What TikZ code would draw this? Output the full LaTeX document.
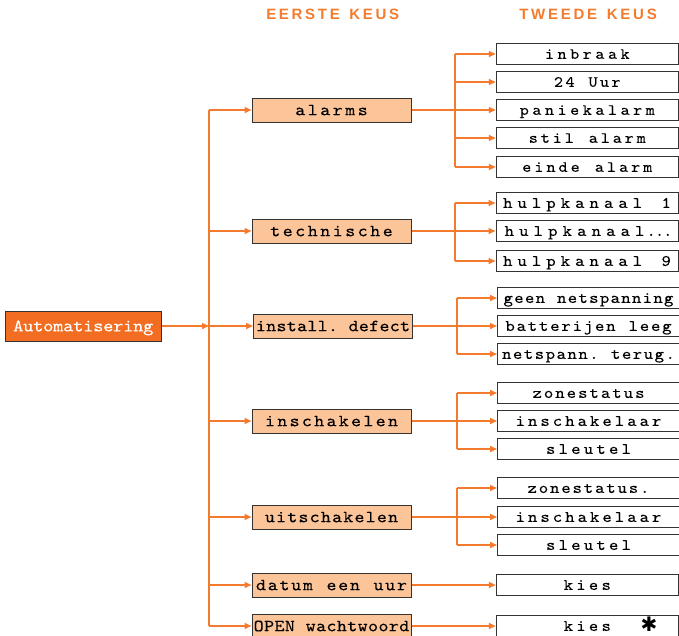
\documentclass[tikz,border=0pt]{standalone}
\usepackage{fontspec}
\newfontfamily\titlefont{Liberation Sans}
\newfontfamily\symfont{DejaVu Sans}
\newfontfamily\boxfont{lmmono10-regular.otf}[FakeBold=0.15,FakeStretch=1.12]
\usetikzlibrary{arrows.meta}
\definecolor{org}{HTML}{F47B2E}
\definecolor{autofill}{HTML}{F26D21}
\definecolor{peach}{HTML}{FBC499}
\definecolor{bord}{HTML}{333333}
\newlength\pitchlen
\makeatletter
\def\pitched#1#2{\setlength\pitchlen{#1pt}\pitched@i#2\relax}
\def\pitched@i#1{\ifx\relax#1\else\makebox[\pitchlen][c]{#1}\expandafter\pitched@i\fi}
\def\tracked#1#2{\def\trk@amt{#1pt}\tracked@i#2\relax\kern-\trk@amt}
\def\tracked@i#1{\ifx\relax#1\else#1\kern\trk@amt\expandafter\tracked@i\fi}
\makeatother
\tikzset{
 conn/.style={draw=org, line width=1.4pt},
 arr/.style={conn, -{Triangle[length=7pt,width=6pt]}},
 autobox/.style={draw=bord, fill=autofill, line width=1pt, inner sep=0pt, minimum width=156pt, minimum height=30pt, font=\boxfont\fontsize{17.5}{18}\selectfont, text=white, text height=10.7pt, text depth=0pt},
 firstbox/.style={draw=bord, fill=peach, line width=1pt, inner sep=0pt, minimum width=159pt, minimum height=24pt, font=\boxfont\fontsize{17}{18}\selectfont, text=black, text height=10.4pt, text depth=0pt},
 secbox/.style={draw=bord, fill=white, line width=1pt, inner sep=0pt, minimum width=182pt, minimum height=20.5pt, font=\boxfont\fontsize{16}{18}\selectfont, text=black, text height=9.8pt, text depth=0pt},
 secboxs/.style={secbox, font=\boxfont\fontsize{15.5}{18}\selectfont, text height=9.5pt},
 headtxt/.style={font=\titlefont\bfseries\fontsize{15}{18}\selectfont, text=org, inner sep=0pt, text height=10.8pt, text depth=0pt},
}
\begin{document}
\begin{tikzpicture}[x=1pt,y=-1pt]
\useasboundingbox (0,0) rectangle (679,635);
% headings
\node[headtxt] (h1) at (332.7,14.5) {\tracked{2.7}{EERSTE~KEUS}};
\node[headtxt] (h2) at (588,14.5) {\tracked{2.75}{TWEEDE~KEUS}};
% root
\node[autobox] (auto) at (83.3,326) {\pitched{10}{Automatisering}};
% first level
\node[firstbox] (A) at (331.5,110) {\pitched{12.5}{alarms}};
\node[firstbox] (T) at (331.5,231) {\pitched{12.5}{technische}};
\node[firstbox] (I) at (333,326) {\pitched{10.3}{install.~defect}};
\node[firstbox] (IN) at (331.5,421) {\pitched{12.3}{inschakelen}};
\node[firstbox] (U) at (331.5,517) {\pitched{11.2}{uitschakelen}};
\node[firstbox] (D) at (331.5,585) {\pitched{11.75}{datum~een~uur}};
\node[firstbox] (O) at (331.5,626) {\pitched{10.4}{OPEN~wachtwoord}};
% second level
\node[secboxs] (a1) at (587.3,54) {\pitched{12.6}{inbraak}};
\node[secboxs] (a2) at (587.3,82) {\pitched{11.5}{24~Uur}};
\node[secboxs] (a3) at (587.3,110) {\pitched{12.6}{paniekalarm}};
\node[secboxs] (a4) at (587.3,138) {\pitched{12.0}{stil~alarm}};
\node[secboxs] (a5) at (587.3,167) {\pitched{12.1}{einde~alarm}};
\node[secbox] (t1) at (587,203) {\pitched{14.4}{hulpkanaal~1}};
\node[secbox] (t2) at (587,231) {\pitched{14.5}{hulpkanaal}\pitched{8.3}{...}};
\node[secbox] (t3) at (587,261) {\pitched{14.4}{hulpkanaal~9}};
\node[secbox] (i1) at (588.5,298) {\pitched{10.7}{geen~netspanning}};
\node[secbox] (i2) at (588.5,326) {\pitched{11.2}{batterijen~leeg}};
\node[secbox] (i3) at (588.5,354) {\pitched{10.9}{netspann.~terug.}};
\node[secbox] (n1) at (588.5,393) {\pitched{11.4}{zonestatus}};
\node[secbox] (n2) at (588.5,421) {\pitched{12.4}{inschakelaar}};
\node[secbox] (n3) at (588.5,449) {\pitched{12.6}{sleutel}};
\node[secbox] (u1) at (588.5,488) {\pitched{11.25}{zonestatus.}};
\node[secbox] (u2) at (588.5,517) {\pitched{12.4}{inschakelaar}};
\node[secbox] (u3) at (588.5,545) {\pitched{12.6}{sleutel}};
\node[secbox] (k1) at (587.3,585) {\pitched{12.6}{kies}};
\node[secbox] (k2) at (587.3,626) {\hphantom{\hspace{28pt}{\symfont\fontsize{20}{20}\selectfont ✱}}\pitched{12.6}{kies}\hspace{28pt}{\symfont\fontsize{20}{20}\selectfont\raisebox{-0.5pt}{✱}}};
% trunk
\coordinate (tr) at (209,0);
\draw[conn] (tr |- A.west) -- (tr |- O.west);
\draw[arr] (auto.east) -- (tr |- auto.east);
\foreach \n in {A,T,I,IN,U,D,O} \draw[arr] (tr |- \n.west) -- (\n.west);
% branches
\coordinate (bA) at (455,0);
\coordinate (bB) at (457,0);
\draw[conn] (bA |- a1.west) -- (bA |- a5.west);
\draw[arr] (A.east) -- (A.east -| a3.west);
\foreach \n in {a1,a2,a4,a5} \draw[arr] (bA |- \n.west) -- (\n.west);
\draw[conn] (bA |- t1.west) -- (bA |- t3.west);
\draw[arr] (T.east) -- (T.east -| t2.west);
\foreach \n in {t1,t3} \draw[arr] (bA |- \n.west) -- (\n.west);
\draw[conn] (bB |- i1.west) -- (bB |- i3.west);
\draw[arr] (I.east) -- (I.east -| i2.west);
\foreach \n in {i1,i3} \draw[arr] (bB |- \n.west) -- (\n.west);
\draw[conn] (bB |- n1.west) -- (bB |- n3.west);
\draw[arr] (IN.east) -- (IN.east -| n2.west);
\foreach \n in {n1,n3} \draw[arr] (bB |- \n.west) -- (\n.west);
\draw[conn] (bB |- u1.west) -- (bB |- u3.west);
\draw[arr] (U.east) -- (U.east -| u2.west);
\foreach \n in {u1,u3} \draw[arr] (bB |- \n.west) -- (\n.west);
\draw[arr] (D.east) -- (D.east -| k1.west);
\draw[arr] (O.east) -- (O.east -| k2.west);
\end{tikzpicture}
\end{document}
